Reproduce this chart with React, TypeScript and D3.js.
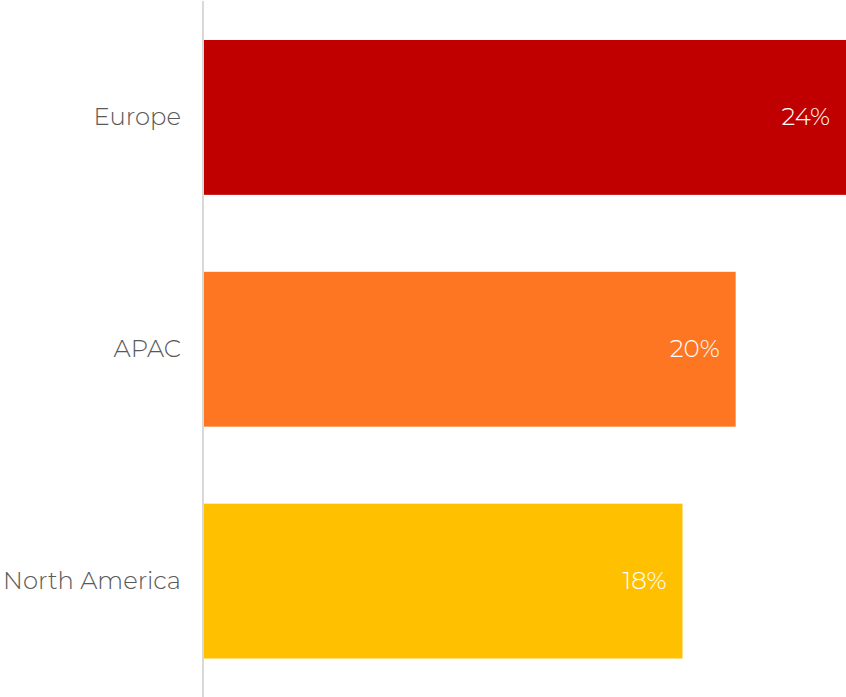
import React from "react";
import * as d3 from "d3";

const categories = ["Europe", "APAC", "North America"];
const values = [24.15, 20, 18];
const valueLabels = ["24%", "20%", "18%"];
const colors = ["#C00000", "#FF7622", "#FFC000"];

const W = 846;
const H = 697;
const FONT = "Montserrat, 'DejaVu Sans', 'Noto Sans', sans-serif";

export default function App() {
  const x = d3.scaleLinear().domain([0, 24.15]).range([204, 846]);
  const y = d3
    .scaleBand<string>()
    .domain(categories)
    .range([1.5, H])
    .paddingInner(0.332)
    .paddingOuter(0.166);

  return (
    <svg
      width={W}
      height={H}
      style={{ position: "absolute", left: 0, top: 0, background: "#fff" }}
    >
      {categories.map((c, i) => {
        const y0 = y(c)!;
        const bw = y.bandwidth();
        return (
          <g key={c}>
            <rect x={x(0)} y={y0} width={x(values[i]) - x(0)} height={bw} fill={colors[i]} />
            <text
              x={181}
              y={y0 + bw / 2 - 1}
              dy="0.35em"
              textAnchor="end"
              fontFamily={FONT}
              fontSize={24.3}
              fill="#595959"
              fontWeight={300}
            >
              {c}
            </text>
            <text
              x={x(values[i]) - 16}
              y={y0 + bw / 2 - 1}
              dy="0.35em"
              textAnchor="end"
              fontFamily={FONT}
              fontSize={24.5}
              fill="#ffffff"
              fontWeight={300}
            >
              {valueLabels[i]}
            </text>
          </g>
        );
      })}
      <line x1={203} x2={203} y1={1} y2={H} stroke="#d9d9d9" strokeWidth={2} />
    </svg>
  );
}
